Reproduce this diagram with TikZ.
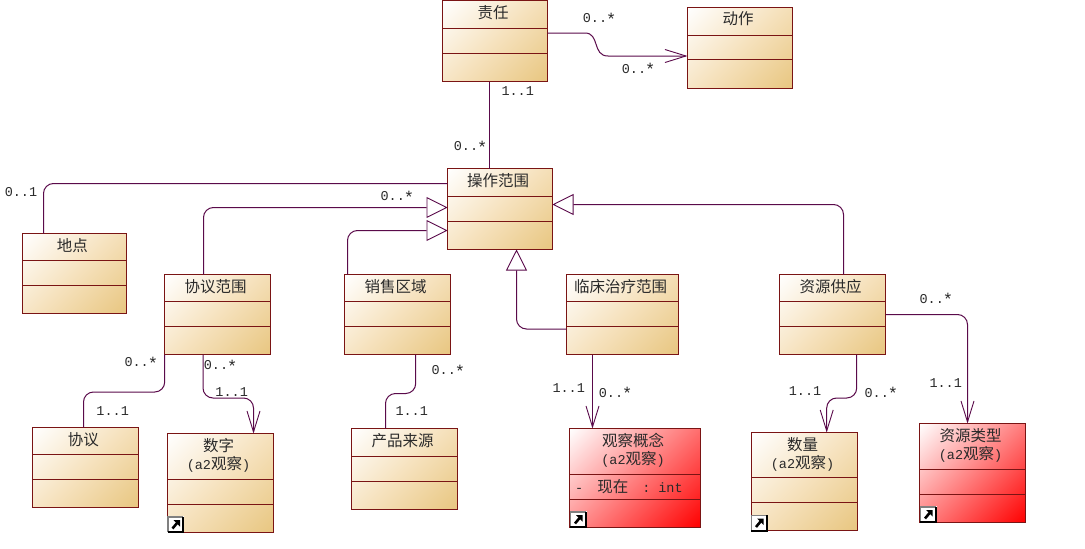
\documentclass[tikz,border=0pt]{standalone}
\usepackage{fontspec}
\setmainfont{Liberation Mono}
\newfontfamily\cjk{Noto Sans CJK SC}
\usetikzlibrary{arrows.meta}
\definecolor{boxedge}{HTML}{7A1414}
\definecolor{linkcol}{HTML}{5A0A4A}
\definecolor{tanend}{HTML}{E8C680}
\definecolor{tanmid}{HTML}{F6E2BE}
\definecolor{txtcol}{HTML}{2A2A2A}
\newcommand{\C}[1]{{\cjk\fontsize{15.5}{18}\selectfont #1}}
\newcommand{\St}{\makebox[8pt][c]{\raisebox{-2.5pt}{\fontsize{17}{17}\selectfont *}}}
\tikzset{
  tanbox/.style={path picture={\shade[top color=white,bottom color=tanend,middle color=tanmid,shading angle=45]
     (path picture bounding box.center) ++({-\shR},{-\shR}) rectangle ++({2*\shR},{2*\shR});}},
  redbox/.style={path picture={\shade[top color=white,bottom color=red,shading angle=45]
     (path picture bounding box.center) ++({-\shR},{-\shR}) rectangle ++({2*\shR},{2*\shR});}},
  umlbox/.style={draw=boxedge,line width=1pt,inner sep=0pt,outer sep=0pt,anchor=north west,text=txtcol},
  sepline/.style={draw=boxedge,line width=1pt},
  link/.style={draw=linkcol,line width=1pt},
  curved/.style={link,rounded corners=10pt},
  openhead/.style={-{Straight Barb[length=21pt,width=13pt,line width=0.9pt]}},
  trihead/.style={-{Triangle[open,fill=white,length=21pt,width=21pt,line width=0.9pt]}},
  mult/.style={text=txtcol,font=\fontsize{13.5}{15}\selectfont,inner sep=0pt},
}
% name, x1, y1, x2, y2, sep1, sep2, style, title
\newcommand{\umlclass}[9]{%
  \pgfmathsetmacro{\bw}{#4-#2}\pgfmathsetmacro{\bh}{#5-#3}\pgfmathsetmacro{\shR}{(\bw+\bh)/2.828}%
  \node[umlbox,#8,minimum width=\bw pt,minimum height=\bh pt] (#1) at (#2,#3)
    {\parbox[c][\bh pt][t]{\bw pt}{\centering\advance\rightskip by 4pt\vspace*{4.5pt}\fontsize{13.5}{18.5}\selectfont #9\par}};
  \draw[sepline] (#1.west |- 0,#6) -- (#1.east |- 0,#6);
  \draw[sepline] (#1.west |- 0,#7) -- (#1.east |- 0,#7);
}
% shortcut icon: x, y of the upper left corner
\newcommand{\shortcut}[2]{%
  \begin{scope}[shift={(#1,#2)}]
    \fill[white] (0,0) rectangle (17,17);
    \draw[gray,line width=1.6pt] (0.8,16.2) -- (0.8,0.8) -- (16.2,0.8);
    \draw[black,line width=1.8pt] (16.2,0.8) -- (16.2,16.2) -- (0.8,16.2);
    \draw[black,line width=2.6pt] (5.5,12.5) -- (10.5,6.5);
    \fill[black] (6.5,4) -- (13,4) -- (13,10.5) -- cycle;
  \end{scope}
}
\begin{document}
\begin{tikzpicture}[x=1pt,y=-1pt]
\useasboundingbox (0,0) rectangle (1085,549);
\fill[white] (0,0) rectangle (1085,549);
\umlclass{zeren}{442.5}{0.5}{547.5}{81.5}{28.5}{53.5}{tanbox}{\C{责任}}
\umlclass{dongzuo}{687.5}{7.5}{792.5}{88.5}{35.5}{59.5}{tanbox}{\C{动作}}
\umlclass{fanwei}{447.5}{168.5}{552.5}{249.5}{196.5}{221.5}{tanbox}{\C{操作范围}}
\umlclass{didian}{22.5}{233.5}{126.5}{313.5}{260.5}{285.5}{tanbox}{\C{地点}}
\umlclass{xieyifw}{164.5}{274.5}{270.5}{354.5}{301.5}{326.5}{tanbox}{\C{协议范围}}
\umlclass{xiaoshou}{344.5}{274.5}{450.5}{354.5}{301.5}{326.5}{tanbox}{\C{销售区域}}
\umlclass{linchuang}{566.5}{274.5}{678.5}{354.5}{301.5}{326.5}{tanbox}{\C{临床治疗范围}}
\umlclass{ziyuan}{779.5}{274.5}{885.5}{354.5}{301.5}{326.5}{tanbox}{\C{资源供应}}
\umlclass{xieyi}{32.5}{427.5}{138.5}{507.5}{454.5}{479.5}{tanbox}{\C{协议}}
\umlclass{shuzi}{167.5}{433.5}{273.5}{532.5}{479.5}{504.5}{tanbox}{\C{数字}\\(a2\C{观察})}
\umlclass{chanpin}{351.5}{428.5}{457.5}{509.5}{456.5}{481.5}{tanbox}{\C{产品来源}}
\umlclass{guancha}{569.5}{428.5}{700.5}{527.5}{474.5}{499.5}{redbox}{\C{观察概念}\\(a2\C{观察})}
\umlclass{shuliang}{751.5}{432.5}{857.5}{530.5}{477.5}{502.5}{tanbox}{\C{数量}\\(a2\C{观察})}
\umlclass{leixing}{919.5}{423.5}{1025.5}{522.5}{469.5}{494.5}{redbox}{\C{资源类型}\\(a2\C{观察})}
\node[mult,anchor=west] (attr) at (575,486.5) {-\hspace*{14pt}\C{现在}\hspace*{14pt}:\hspace*{8pt}int};

\shortcut{167}{516}
\shortcut{569.5}{511}
\shortcut{750.5}{514.5}
\shortcut{919.5}{506}

% connectors
\draw[link,openhead] (zeren.east |- 0,33) -- (585,33) .. controls (600,33) and (592,56) .. (608,56) -- (dongzuo.west |- 0,56);
\draw[link] (489.5,0 |- zeren.south) -- (489.5,0 |- fanwei.north);
\draw[curved] (43.5,0 |- didian.north) -- (43.5,183.5) -- (fanwei.west |- 0,183.5);
\draw[curved,trihead] (203.5,0 |- xieyifw.north) -- (203.5,207.5) -- (fanwei.west |- 0,207.5);
\draw[curved,trihead] (347.5,0 |- xiaoshou.north) -- (347.5,230.5) -- (fanwei.west |- 0,230.5);
\draw[curved,trihead] (linchuang.west |- 0,329) -- (516.5,329) -- (516.5,0 |- fanwei.south);
\draw[curved,trihead] (843.5,0 |- ziyuan.north) -- (843.5,204.5) -- (fanwei.east |- 0,204.5);
\draw[curved] (164.7,0 |- xieyifw.south) -- (164.7,392) -- (83.5,392) -- (83.5,0 |- xieyi.north);
\draw[curved,openhead] (203,0 |- xieyifw.south) -- (203,398) -- (253.5,398) -- (253.5,0 |- shuzi.north);
\draw[curved] (415.7,0 |- xiaoshou.south) -- (415.7,393.5) -- (385.5,393.5) -- (385.5,0 |- chanpin.north);
\draw[link,openhead] (592.5,0 |- linchuang.south) -- (592.5,0 |- guancha.north);
\draw[curved,openhead] (856.7,0 |- ziyuan.south) -- (856.7,398) -- (826.7,398) -- (826.7,0 |- shuliang.north);
\draw[curved,openhead] (ziyuan.east |- 0,314.5) -- (967.5,314.5) -- (967.5,0 |- leixing.north);

% multiplicities
\node[mult] (m1) at (599,19) {0..\St};
\node[mult] (m2) at (638,69.5) {0..\St};
\node[mult] (m3) at (517.7,91) {1..1};
\node[mult] (m4) at (470,147) {0..\St};
\node[mult] (m5) at (21,192) {0..1};
\node[mult] (m6) at (396.7,197) {0..\St};
\node[mult] (m7) at (140.7,363) {0..\St};
\node[mult] (m8) at (220,366) {0..\St};
\node[mult] (m9) at (231.7,392) {1..1};
\node[mult] (m10) at (112.7,411) {1..1};
\node[mult] (m11) at (447.7,371) {0..\St};
\node[mult] (m12) at (411.7,411) {1..1};
\node[mult] (m13) at (568.7,388) {1..1};
\node[mult] (m14) at (615,393.5) {0..\St};
\node[mult] (m15) at (805,391) {1..1};
\node[mult] (m16) at (880.7,393.5) {0..\St};
\node[mult] (m17) at (945.7,383) {1..1};
\node[mult] (m18) at (935.7,299.5) {0..\St};
\end{tikzpicture}
\end{document}
